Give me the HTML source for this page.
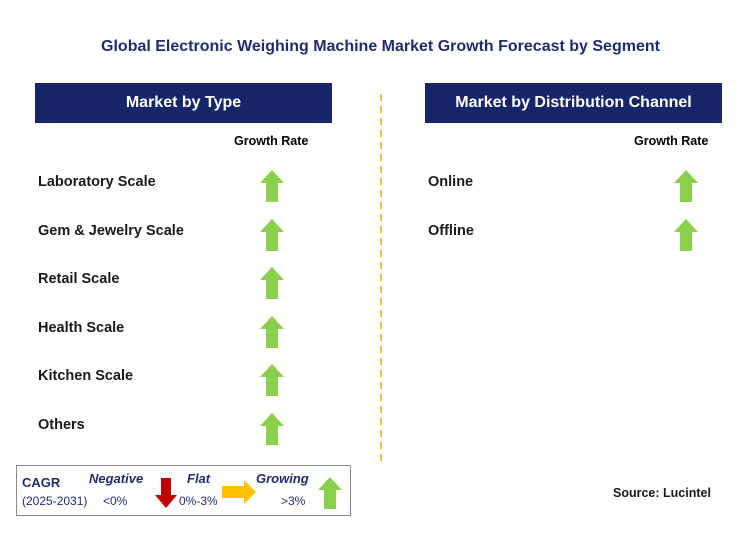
<!DOCTYPE html>
<html><head><meta charset="utf-8"><style>
body{margin:0;width:751px;height:534px;background:#fff;font-family:"Liberation Sans",Arial,sans-serif;position:relative;overflow:hidden}
.a{position:absolute;white-space:nowrap}
.hdr{position:absolute;background:#172569;color:#fff;font-weight:bold;font-size:16px;text-align:center;line-height:40px;height:40px}
.lbl{position:absolute;font-weight:bold;font-size:14.5px;color:#1a1a1a}
</style></head><body>
<div class="a" style="left:0;width:761px;text-align:center;top:38px;font-weight:bold;font-size:16px;color:#1f2d6e">Global Electronic Weighing Machine Market Growth Forecast by Segment</div>
<div class="hdr" style="left:35px;top:83px;width:297px">Market by Type</div>
<div class="hdr" style="left:425px;top:83px;width:297px">Market by Distribution Channel</div>
<div class="a" style="left:234px;top:134px;font-weight:bold;font-size:12.5px">Growth Rate</div>
<div class="a" style="left:634px;top:134px;font-weight:bold;font-size:12.5px">Growth Rate</div>
<svg class="a" style="left:379px;top:94px" width="4" height="370"><line x1="2" y1="0" x2="2" y2="370" stroke="#f4b942" stroke-width="2" stroke-dasharray="7,5"/></svg>
<div id="rows"></div>
<div class="a" style="left:16px;top:465px;width:335px;height:51px;border:1.5px solid #888;box-sizing:border-box">
<div class="a" style="left:5px;top:9px;font-weight:bold;font-size:13px;color:#1f2d6e">CAGR</div>
<div class="a" style="left:5px;top:28px;font-size:12px;color:#1f2d6e">(2025-2031)</div>
<div class="a" style="left:72px;top:5px;font-weight:bold;font-style:italic;font-size:13px;color:#1f2d6e">Negative</div>
<div class="a" style="left:86px;top:28px;font-size:12px;color:#1f2d6e">&lt;0%</div>
<svg class="a" style="left:137px;top:12px" width="24" height="30"><polygon points="7,0 17,0 17,17 23,17 12,30 1,17 7,17" fill="#c00000"/></svg>
<div class="a" style="left:170px;top:5px;font-weight:bold;font-style:italic;font-size:13px;color:#1f2d6e">Flat</div>
<div class="a" style="left:162px;top:28px;font-size:12px;color:#1f2d6e">0%-3%</div>
<svg class="a" style="left:205px;top:14px" width="34" height="24"><polygon points="0,6 22,6 22,0 34,12 22,24 22,18 0,18" fill="#ffc000"/></svg>
<div class="a" style="left:239px;top:5px;font-weight:bold;font-style:italic;font-size:13px;color:#1f2d6e">Growing</div>
<div class="a" style="left:264px;top:28px;font-size:12px;color:#1f2d6e">&gt;3%</div>
<svg class="a" style="left:301px;top:11px" width="24" height="32"><polygon points="12,0 24,13 18,13 18,32 6,32 6,13 0,13" fill="#8ccf4d"/></svg>
</div>
<div class="a" style="left:613px;top:486px;font-weight:bold;font-size:12.5px;color:#1a1a1a">Source: Lucintel</div>
<script>
const typeCategories=["Laboratory Scale","Gem & Jewelry Scale","Retail Scale","Health Scale","Kitchen Scale","Others"];
const typeGrowth=["growing","growing","growing","growing","growing","growing"];
const channelCategories=["Online","Offline"];
const channelGrowth=["growing","growing"];
const root=document.getElementById('rows');
function arrow(kind){
 if(kind==='negative')return '<polygon points="7,0 17,0 17,19 24,19 12,32 0,19 7,19" fill="#c00000"/>';
 if(kind==='flat')return '<polygon points="0,10 14,10 14,4 24,16 14,28 14,22 0,22" fill="#ffc000"/>';
 return '<polygon points="12,0 24,13 18,13 18,32 6,32 6,13 0,13" fill="#8ccf4d"/>';
}
function draw(cats,vals,lx,ax){
 cats.forEach((c,i)=>{
  const y=174+i*48.5;
  const d=document.createElement('div');d.className='lbl';
  
  
  d.style.left=lx+'px';d.style.top=y+'px';d.textContent=c;root.appendChild(d);
  const s=document.createElementNS('http://www.w3.org/2000/svg','svg');
  
  
  s.setAttribute('width','24');s.setAttribute('height','32');s.setAttribute('class','a');
  s.style.left=ax+'px';s.style.top=(y-4)+'px';s.innerHTML=arrow(vals[i]);root.appendChild(s);
 });
}
draw(typeCategories,typeGrowth,38,260);
draw(channelCategories,channelGrowth,428,674);
</script>
</body></html>
